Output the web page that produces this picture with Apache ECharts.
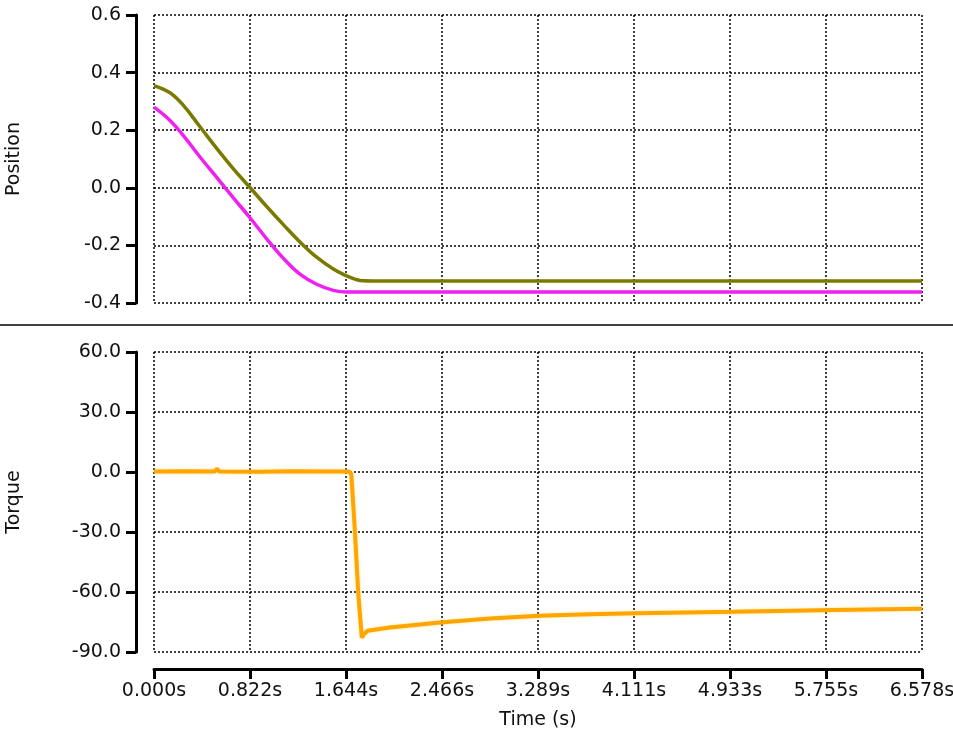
<!DOCTYPE html>
<html>
<head>
<meta charset="utf-8">
<title>Position / Torque</title>
<script src="https://cdn.jsdelivr.net/npm/echarts@6/dist/echarts.min.js"></script>
<style>
  html, body { margin: 0; padding: 0; background: #fff; }
  #chart { width: 953px; height: 733px; }
</style>
</head>
<body>
<div id="chart"></div>
<script>
// time axis ticks
const timeTicks = ['0.000s', '0.822s', '1.644s', '2.466s', '3.289s', '4.111s', '4.933s', '5.755s', '6.578s']
const timeMax = 6.578

// position traces (s, value)
const posTime = [0, 0.137, 0.25, 0.394, 0.537, 0.68, 0.822, 0.965, 1.108, 1.25, 1.393, 1.536, 1.65, 1.72, 1.79, 2.0, 6.578]
const posOlive = [0.355, 0.330, 0.287, 0.212, 0.137, 0.066, 0.001, -0.065, -0.128, -0.188, -0.241, -0.282, -0.306, -0.317, -0.323, -0.324, -0.324]
const posMagentaTime = [0, 0.137, 0.25, 0.394, 0.537, 0.68, 0.822, 0.965, 1.108, 1.25, 1.393, 1.536, 1.65, 1.75, 6.578]
const posMagenta = [0.28, 0.234, 0.182, 0.107, 0.036, -0.035, -0.104, -0.177, -0.245, -0.300, -0.335, -0.356, -0.362, -0.362, -0.362]

// torque trace
const torqueTime = [0, 0.3, 0.52, 0.54, 0.56, 0.9, 1.2, 1.5, 1.67, 1.69, 1.72, 1.75, 1.78, 1.80, 1.83, 2.02, 2.45, 2.88, 3.3, 3.73, 4.13, 4.96, 5.82, 6.578]
const torqueVal = [0.2, 0.4, 0.3, 1.6, 0.3, 0.1, 0.4, 0.2, 0.2, -1, -29, -61, -82.8, -81, -79.4, -77.8, -75.3, -73.3, -71.9, -71.1, -70.6, -69.9, -69.0, -68.4]

const pairs = (xs, ys) => xs.map((x, i) => [x, ys[i]])

const font = 'DejaVu Sans'
const tickStep = timeMax / 8

const dotted = {
  show: true,
  lineStyle: { color: '#000', width: 1.5, type: [2, 2] }
}

function yAxisBase(gridIndex, name, min, max, interval) {
  return {
    gridIndex: gridIndex,
    type: 'value',
    min: min,
    max: max,
    interval: interval,
    offset: 18,
    name: name,
    nameLocation: 'middle',
    nameGap: 112,
    nameRotate: 90,
    nameTextStyle: { fontFamily: font, fontSize: 19, color: '#111' },
    axisLine: { show: true, onZero: false, lineStyle: { color: '#000', width: 3 } },
    axisTick: { show: true, length: 10, lineStyle: { color: '#000', width: 3 } },
    axisLabel: {
      margin: 15,
      fontFamily: font,
      fontSize: 19,
      color: '#111',
      formatter: v => v.toFixed(1)
    },
    splitLine: dotted
  }
}

const chart = echarts.init(document.getElementById('chart'))
chart.setOption({
  animation: false,
  backgroundColor: '#fff',
  grid: [
    { left: 154, right: 31, top: 15, height: 288, outerBoundsMode: 'none' },
    { left: 154, right: 31, top: 352, height: 300, outerBoundsMode: 'none' }
  ],
  xAxis: [
    {
      gridIndex: 0,
      type: 'value',
      min: 0,
      max: timeMax,
      interval: tickStep,
      axisLine: { show: false, onZero: false },
      axisTick: { show: false },
      axisLabel: { show: false },
      splitLine: dotted
    },
    {
      gridIndex: 1,
      type: 'value',
      min: 0,
      max: timeMax,
      interval: tickStep,
      offset: 17,
      name: 'Time (s)',
      nameLocation: 'middle',
      nameGap: 42,
      nameTextStyle: { fontFamily: font, fontSize: 19, color: '#111' },
      axisLine: { show: true, onZero: false, lineStyle: { color: '#000', width: 3 } },
      axisTick: { show: true, length: 10, lineStyle: { color: '#000', width: 3 } },
      axisLabel: {
        margin: 13,
        fontFamily: font,
        fontSize: 19,
        color: '#111',
        formatter: v => timeTicks[Math.round(v / tickStep)]
      },
      splitLine: dotted
    }
  ],
  yAxis: [
    yAxisBase(0, 'Position', -0.4, 0.6, 0.2),
    yAxisBase(1, 'Torque', -90, 60, 30)
  ],
  graphic: [
    {
      type: 'line',
      shape: { x1: 0, y1: 325, x2: 953, y2: 325 },
      style: { stroke: '#000', lineWidth: 1.5 }
    }
  ],
  series: [
    {
      name: 'pos1',
      type: 'line',
      xAxisIndex: 0,
      yAxisIndex: 0,
      data: pairs(posTime, posOlive),
      smooth: 0.4,
      symbol: 'none',
      lineStyle: { color: '#7a7a00', width: 3.5 }
    },
    {
      name: 'pos2',
      type: 'line',
      xAxisIndex: 0,
      yAxisIndex: 0,
      data: pairs(posMagentaTime, posMagenta),
      smooth: 0.4,
      symbol: 'none',
      lineStyle: { color: '#f020f0', width: 3.5 }
    },
    {
      name: 'torque',
      type: 'line',
      xAxisIndex: 1,
      yAxisIndex: 1,
      data: pairs(torqueTime, torqueVal),
      symbol: 'none',
      lineStyle: {
        color: '#ffa500',
        width: 4,
        shadowColor: 'rgba(255, 210, 80, 0.6)',
        shadowBlur: 3
      }
    }
  ]
})
</script>
</body>
</html>
